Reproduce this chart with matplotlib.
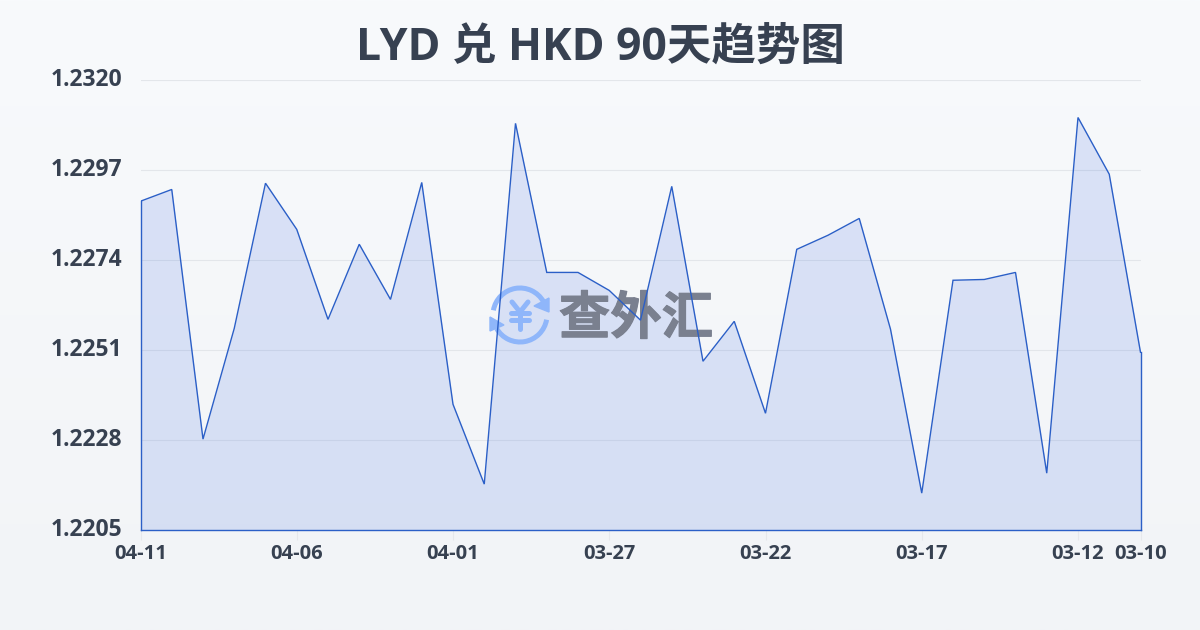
import matplotlib
matplotlib.use('Agg')
import matplotlib.pyplot as plt
import matplotlib.patheffects as pe
import numpy as np
from matplotlib.patches import Arc, Polygon

plt.rcParams['font.family'] = ['Open Sans', 'Noto Sans CJK SC', 'DejaVu Sans']

# --- data ---
title = 'LYD 兑 HKD 90天趋势图'
rates = [1.22891, 1.22921, 1.22283, 1.22566, 1.22937, 1.22819, 1.22589, 1.22781, 1.22640,
         1.22939, 1.22372, 1.22168, 1.23090, 1.22709, 1.22709, 1.22663, 1.22587, 1.22929,
         1.22482, 1.22584, 1.22349, 1.22768, 1.22804, 1.22847, 1.22564, 1.22145, 1.22689,
         1.22691, 1.22709, 1.22196, 1.23105, 1.22960, 1.22505]
x_tick_pos = [0, 5, 10, 15, 20, 25, 30, 32]
x_tick_labels = ['04-11', '04-06', '04-01', '03-27', '03-22', '03-17', '03-12', '03-10']
y_ticks = [1.2205, 1.2228, 1.2251, 1.2274, 1.2297, 1.2320]

TEXT = '#374151'
LINE = '#2b5fc7'
LOGO = '#8fb6fa'

fig = plt.figure(figsize=(12, 6.3), dpi=100)

# background gradient, also used as a pixel coordinate system for the watermark
bg = fig.add_axes([0, 0, 1, 1], zorder=0)
bg.imshow(np.linspace(0, 1, 256).reshape(-1, 1), aspect='auto', extent=(0, 1200, 630, 0),
          cmap=matplotlib.colors.LinearSegmentedColormap.from_list('bg', ['#f8fafc', '#f2f4f7']))
bg.set_xlim(0, 1200)
bg.set_ylim(630, 0)
bg.axis('off')

ax = fig.add_axes([140.5 / 1200, 1 - 530.3 / 630, 1000 / 1200, 450 / 630], zorder=1)
ax.patch.set_alpha(0)
x = np.arange(len(rates))
ax.fill_between(x, rates, 1.2205, color='#2a5be0', alpha=0.14, linewidth=0, zorder=2)
ax.plot(x, rates, color=LINE, linewidth=1.0, solid_joinstyle='miter', zorder=4)
# closes the area at both sides and along the base
ax.plot([0, 0], [1.2205, rates[0]], color=LINE, linewidth=1.0, clip_on=False, zorder=4)
ax.plot([32, 32], [1.2205, rates[-1]], color=LINE, linewidth=1.0, clip_on=False, zorder=4)
ax.plot([0, 32], [1.2205, 1.2205], color=LINE, linewidth=1.0, clip_on=False, zorder=4)

ax.set_xlim(0, 32)
ax.set_ylim(1.2205, 1.2320)
ax.set_yticks(y_ticks)
ax.set_yticklabels([f'{v:.4f}' for v in y_ticks], fontsize=16.5, fontweight='bold', color=TEXT,
                   va='center')
ax.set_xticks(x_tick_pos)
ax.set_xticklabels(x_tick_labels, fontsize=14.5, fontweight='bold', color=TEXT)
ax.tick_params(axis='y', length=0, pad=13)
ax.tick_params(axis='x', length=7, width=0.8, color='#e6e8ec', pad=3)
ax.grid(axis='y', color='#e3e6ea', linewidth=0.8, zorder=1)
ax.set_axisbelow(True)
for s in ax.spines.values():
    s.set_visible(False)

# watermark, under the line, in pixel coordinates
px = bg.transData
def wm_line(xs, ys, lw):
    ax.plot(xs, ys, transform=px, color=LOGO, linewidth=lw, solid_capstyle='round',
            clip_on=False, zorder=3)

ax.add_patch(Arc((520, 315), 54, 54, theta1=190, theta2=330, transform=px, color=LOGO,
                 linewidth=3.6, clip_on=False, zorder=3))
ax.add_patch(Arc((520, 315), 54, 54, theta1=10, theta2=150, transform=px, color=LOGO,
                 linewidth=3.6, clip_on=False, zorder=3))
ax.add_patch(Polygon([(549, 298), (549, 312), (534, 306)], transform=px, color=LOGO,
                     clip_on=False, zorder=3))
ax.add_patch(Polygon([(490, 317), (490, 331), (504, 325)], transform=px, color=LOGO,
                     clip_on=False, zorder=3))
wm_line([512, 520, 528], [302, 312, 302], 3.6)
wm_line([511, 529], [313, 313], 3.6)
wm_line([511, 529], [320, 320], 3.6)
wm_line([520, 520], [312, 329], 3.6)
wm_text = ax.text(636, 321, '查外汇', transform=px, fontsize=37, fontweight='bold', color='#7a808f',
                  ha='center', va='center', clip_on=False, zorder=3)
wm_text.set_path_effects([pe.withStroke(linewidth=0.8, foreground='#7a808f')])

fig.text(0.5, 1 - 48 / 630, title, fontsize=32, fontweight='bold', color=TEXT,
         ha='center', va='center')

fig.savefig('out.png', dpi=100)
